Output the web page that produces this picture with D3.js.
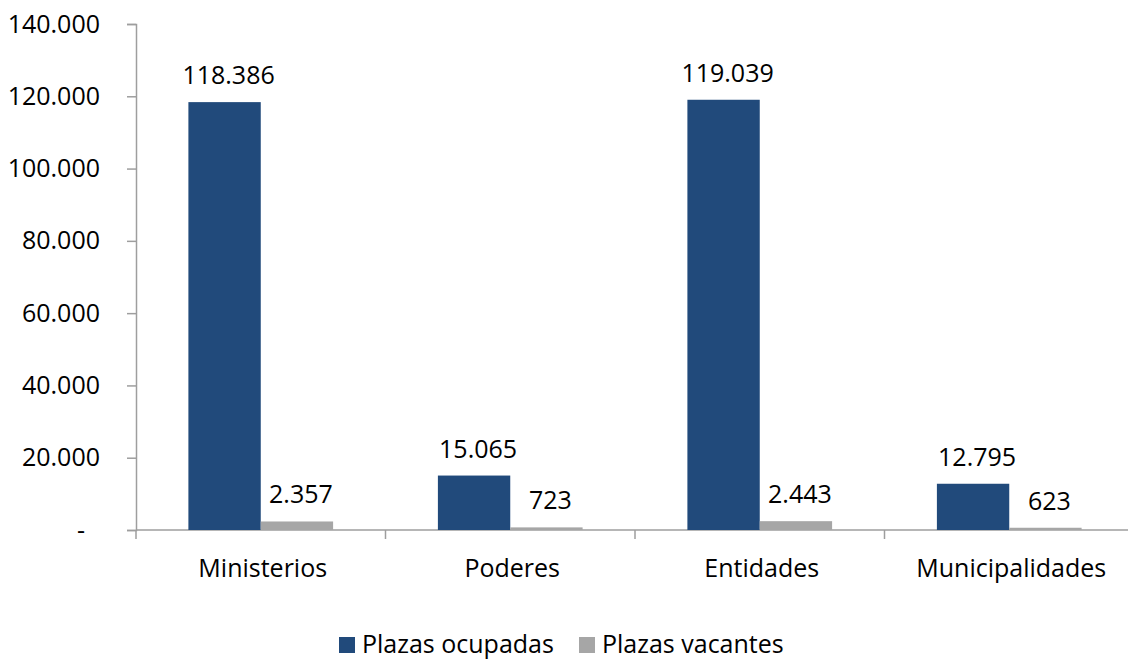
<!DOCTYPE html>
<html>
<head>
<meta charset="utf-8">
<script src="https://cdn.jsdelivr.net/npm/d3@7"></script>
<style>
  body { margin: 0; background: #fff; }
  svg text { font-family: "Open Sans", "Noto Sans", sans-serif; fill: #000; }
</style>
</head>
<body>
<svg id="chart" width="1128" height="659"></svg>
<script>
// données
const categories = ["Ministerios", "Poderes", "Entidades", "Municipalidades"];
const seriesNames = ["Plazas ocupadas", "Plazas vacantes"];
const ocupadas = [118386, 15065, 119039, 12795];
const vacantes = [2357, 723, 2443, 623];
const yTicks = [0, 20000, 40000, 60000, 80000, 100000, 120000, 140000];
const colors = ["#214A7B", "#A6A6A6"];

const svg = d3.select("#chart");
const plotLeft = 136, plotRight = 1134, plotTop = 24, plotBottom = 530;
const fontSize = "25px";

const x = d3.scaleBand().domain(categories).range([plotLeft, plotRight]);
const bw = x.bandwidth() * 0.29;
const y = d3.scaleLinear().domain([0, 140000]).range([plotBottom, plotTop]);

// format à la Excel : 118.386, zéro => "-"
const fmt = v => v === 0 ? "-" : d3.format(",")(v).replace(/,/g, ".");

// axe Y
const yAxis = svg.append("g")
    .attr("transform", `translate(${plotLeft},0)`)
    .call(d3.axisLeft(y).tickValues(yTicks).tickSize(9).tickPadding(27).tickFormat(fmt));
yAxis.select(".domain").attr("stroke", "#9e9e9e").attr("stroke-width", 1.5);
yAxis.selectAll(".tick line").attr("stroke", "#9e9e9e").attr("stroke-width", 1.5);
yAxis.selectAll(".tick text").style("font-size", fontSize).attr("fill", "#000");
yAxis.selectAll(".tick").filter(d => d === 0).select("text").attr("dx", -15);

// axe X
svg.append("line")
    .attr("x1", plotLeft).attr("x2", 1128)
    .attr("y1", plotBottom).attr("y2", plotBottom)
    .attr("stroke", "#9e9e9e").attr("stroke-width", 1.5);
svg.selectAll("line.xtick")
    .data(categories)
    .enter().append("line")
    .attr("class", "xtick")
    .attr("x1", d => x(d)).attr("x2", d => x(d))
    .attr("y1", plotBottom).attr("y2", plotBottom + 9)
    .attr("stroke", "#9e9e9e").attr("stroke-width", 1.5);
svg.selectAll("text.cat")
    .data(categories)
    .enter().append("text")
    .attr("class", "cat")
    .attr("x", d => x(d) + x.bandwidth() / 2 + 2)
    .attr("y", 577)
    .attr("text-anchor", "middle")
    .style("font-size", fontSize)
    .text(d => d);

// barres
const series = [ocupadas, vacantes];
series.forEach((vals, s) => {
    const g = svg.append("g");
    const xpos = (d, i) => x(categories[i]) + x.bandwidth() / 2 + (s - 1) * bw;
    g.selectAll("rect")
        .data(vals)
        .enter().append("rect")
        .attr("x", xpos)
        .attr("y", d => y(d))
        .attr("width", bw)
        .attr("height", d => plotBottom - y(d))
        .attr("fill", colors[s]);
    g.selectAll("text")
        .data(vals)
        .enter().append("text")
        .attr("x", (d, i) => xpos(d, i) + bw / 2 + 4)
        .attr("y", d => y(d) - 18)
        .attr("text-anchor", "middle")
        .style("font-size", fontSize)
        .text(d => fmt(d));
});

// légende
const legendX = [339, 579];
const leg = svg.selectAll("g.leg")
    .data(seriesNames)
    .enter().append("g")
    .attr("class", "leg")
    .attr("transform", (d, i) => `translate(${legendX[i]},637)`);
leg.append("rect").attr("width", 16).attr("height", 16).attr("fill", (d, i) => colors[i]);
leg.append("text").attr("x", 23).attr("y", 16).style("font-size", fontSize).text(d => d);
</script>
</body>
</html>
